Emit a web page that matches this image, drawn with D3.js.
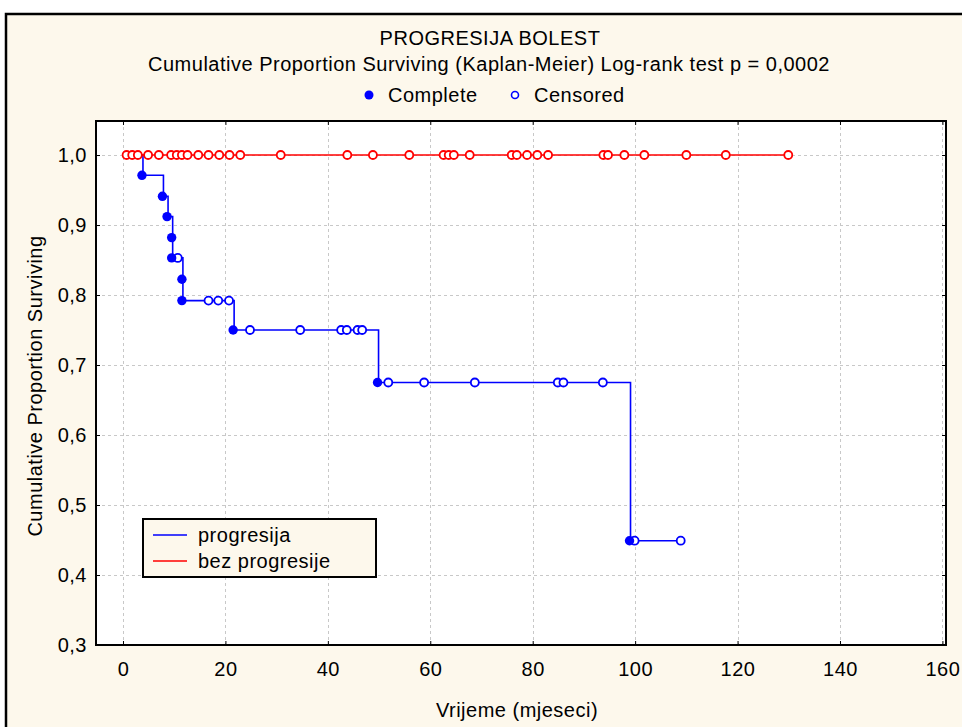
<!DOCTYPE html>
<html><head><meta charset="utf-8">
<script src="https://cdn.jsdelivr.net/npm/d3@7"></script>
<style>
body{margin:0;background:#fff}
svg{display:block}
text{font-family:Arial,"Liberation Sans",sans-serif;fill:#000}
</style>
</head><body>
<svg id="c" width="962" height="727"></svg>
<script>
// ---------- data ----------
const titleText = "PROGRESIJA BOLEST";
const subtitleText = "Cumulative Proportion Surviving (Kaplan-Meier) Log-rank test p = 0,0002";
const xLabel = "Vrijeme (mjeseci)";
const yLabel = "Cumulative Proportion Surviving";
const seriesNames = ["progresija", "bez progresije"];
const xTicks = [0, 20, 40, 60, 80, 100, 120, 140, 160];
const yTicks = [0.3, 0.4, 0.5, 0.6, 0.7, 0.8, 0.9, 1.0];
const yTickLabels = ["0,3", "0,4", "0,5", "0,6", "0,7", "0,8", "0,9", "1,0"];

// bez progresije (red): all censored, survival stays 1.0
const redCensoredTimes = [0.7, 1.8, 2.9, 4.9, 7.0, 9.4, 10.5, 11.5, 12.6, 14.7, 16.7, 18.8, 20.8, 22.9, 30.8,
  43.8, 48.8, 55.9, 62.6, 63.6, 64.6, 67.7, 75.9, 76.9, 78.9, 80.9, 83.0, 93.8, 94.7, 97.9, 101.8, 110.0, 117.7, 129.9];
const redSurvival = 1.0;

// progresija (blue)
const blueEventTimes    = [3.9, 7.9, 8.8, 9.7, 9.7, 11.7, 11.7, 21.7, 49.9, 99.1];
const blueEventSurvival = [0.971, 0.941, 0.912, 0.882, 0.853, 0.8225, 0.792, 0.750, 0.675, 0.449];
const blueCensoredTimes    = [10.7, 16.7, 18.6, 20.7, 24.8, 34.6, 42.6, 43.7, 45.8, 46.7, 51.8, 58.8, 68.7, 84.9, 86.0, 93.7, 99.9, 108.9];
const blueCensoredSurvival = [0.853, 0.792, 0.792, 0.792, 0.750, 0.750, 0.750, 0.750, 0.750, 0.750, 0.675, 0.675, 0.675, 0.675, 0.675, 0.675, 0.449, 0.449];

// ---------- layout ----------
const cream = "#fdf8ec";
const blue = "#0000ff", red = "#ff0000";
const fs = 20, ls = "0.5px";
const svg = d3.select("#c");
const P = {l: 96, r: 946, t: 121, b: 645};

svg.append("rect").attr("x", 6).attr("y", 14).attr("width", 980).attr("height", 740)
  .attr("fill", cream).attr("stroke", "#000").attr("stroke-width", 2.5);

const x = d3.scaleLinear().domain([-5.27, 160.7]).range([P.l, P.r]);
const y = d3.scaleLinear().domain([0.3, 1.0486]).range([P.b, P.t]);

svg.append("rect").attr("x", P.l).attr("y", P.t).attr("width", P.r - P.l).attr("height", P.b - P.t)
  .attr("fill", "#fff");

// grid
const grid = svg.append("g").attr("stroke", "#c8c8c8").attr("stroke-width", 1).attr("stroke-dasharray", "3,3");
grid.selectAll("line.v").data(xTicks).join("line")
  .attr("x1", d => Math.round(x(d)) + 0.5).attr("x2", d => Math.round(x(d)) + 0.5)
  .attr("y1", P.t).attr("y2", P.b);
grid.selectAll("line.h").data(yTicks).join("line")
  .attr("y1", d => Math.round(y(d)) + 0.5).attr("y2", d => Math.round(y(d)) + 0.5)
  .attr("x1", P.l).attr("x2", P.r);

// axes (inward ticks)
const gx = svg.append("g").attr("transform", `translate(0,${P.b})`)
  .call(d3.axisBottom(x).tickValues(xTicks).tickSizeInner(-4).tickSizeOuter(0).tickPadding(17).tickFormat(d3.format("d")));
const gxTop = svg.append("g").attr("transform", `translate(0,${P.t})`)
  .call(d3.axisTop(x).tickValues(xTicks).tickSizeInner(-4).tickSizeOuter(0).tickFormat(""));
const gy = svg.append("g").attr("transform", `translate(${P.l},0)`)
  .call(d3.axisLeft(y).tickValues(yTicks).tickSizeInner(-4).tickSizeOuter(0).tickPadding(9)
    .tickFormat((d, i) => yTickLabels[i]));
const gyR = svg.append("g").attr("transform", `translate(${P.r},0)`)
  .call(d3.axisRight(y).tickValues(yTicks).tickSizeInner(-4).tickSizeOuter(0).tickFormat(""));
[gx, gxTop, gy, gyR].forEach(g => {
  g.select(".domain").remove();
  g.selectAll("line").attr("stroke", "#000");
  g.selectAll("text").attr("font-size", fs).attr("letter-spacing", ls)
    .attr("font-family", "Arial, 'Liberation Sans', sans-serif");
});

svg.append("rect").attr("x", P.l).attr("y", P.t).attr("width", P.r - P.l).attr("height", P.b - P.t)
  .attr("fill", "none").attr("stroke", "#000").attr("stroke-width", 2);

// blue step line
const bluePts = [[0, 1.0]].concat(blueEventTimes.map((t, i) => [t, blueEventSurvival[i]]));
bluePts.push([d3.max(blueCensoredTimes), blueEventSurvival[blueEventSurvival.length - 1]]);
const line = d3.line().x(d => x(d[0])).y(d => y(d[1])).curve(d3.curveStepAfter);
svg.append("path").attr("d", line(bluePts)).attr("fill", "none").attr("stroke", blue).attr("stroke-width", 1.6);

svg.selectAll("circle.bc").data(blueCensoredTimes).join("circle")
  .attr("cx", d => x(d)).attr("cy", (d, i) => y(blueCensoredSurvival[i])).attr("r", 4)
  .attr("fill", "#fff").attr("stroke", blue).attr("stroke-width", 1.8);
svg.selectAll("circle.be").data(blueEventTimes).join("circle")
  .attr("cx", d => x(d) - 1).attr("cy", (d, i) => y(blueEventSurvival[i])).attr("r", 4.7)
  .attr("fill", blue);

// red line
const redPts = [[0, redSurvival], [d3.max(redCensoredTimes), redSurvival]];
svg.append("path").attr("d", line(redPts)).attr("fill", "none").attr("stroke", red).attr("stroke-width", 1.6);
svg.selectAll("circle.rc").data(redCensoredTimes).join("circle")
  .attr("cx", d => x(d)).attr("cy", y(redSurvival)).attr("r", 4)
  .attr("fill", "#fff").attr("stroke", red).attr("stroke-width", 1.8);

// helper for text
function txt(xp, yp, s, anchor) {
  return svg.append("text").attr("x", xp).attr("y", yp).attr("text-anchor", anchor || "start")
    .attr("font-size", fs).attr("letter-spacing", ls).text(s);
}

// titles
txt(490, 45, titleText, "middle");
txt(489, 71, subtitleText, "middle");

// top legend
svg.append("circle").attr("cx", 369).attr("cy", 95).attr("r", 4.5).attr("fill", blue);
txt(388, 102, "Complete");
svg.append("circle").attr("cx", 515).attr("cy", 95).attr("r", 3.5).attr("fill", "#fff").attr("stroke", blue).attr("stroke-width", 1.6);
txt(534, 102, "Censored");

// axis labels
txt(517, 717, xLabel, "middle");
svg.append("text").attr("transform", "translate(42,386) rotate(-90)").attr("text-anchor", "middle")
  .attr("font-size", fs).attr("letter-spacing", ls).text(yLabel);

// series legend box
const lg = svg.append("g");
lg.append("rect").attr("x", 143).attr("y", 519).attr("width", 233).attr("height", 58)
  .attr("fill", cream).attr("stroke", "#000").attr("stroke-width", 2);
[blue, red].forEach((c, i) => {
  lg.append("line").attr("x1", 153).attr("x2", 187).attr("y1", 535 + i * 26).attr("y2", 535 + i * 26)
    .attr("stroke", c).attr("stroke-width", 1.6);
  lg.append("text").attr("x", 198).attr("y", 542 + i * 26).attr("font-size", fs).attr("letter-spacing", ls)
    .text(seriesNames[i]);
});
</script>
</body></html>
